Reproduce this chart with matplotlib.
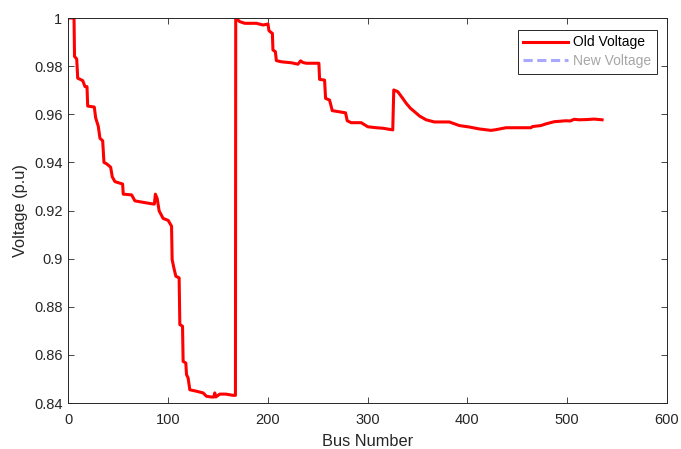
import matplotlib
matplotlib.use('Agg')
from matplotlib import pyplot as plt
from matplotlib.lines import Line2D
import numpy as np

plt.rcParams['font.family'] = ['Liberation Sans', 'DejaVu Sans']

# bus voltage profile (p.u.) at the break points of the feeder
bus = [1, 6, 6.5, 8.7, 9.7, 14.7, 17, 19, 19.7, 26.3, 27.7, 30.3, 32, 34.7, 36,
       38.7, 42.7, 44.3, 47, 54.7, 55.3, 63.7, 67, 75.3, 85.3, 86.5, 87.5, 89.3,
       91.3, 95.3, 100.3, 103.7, 104.3, 106, 108, 111.3, 112, 114.7, 115.3, 118,
       118.7, 120.3, 122, 128.7, 135.3, 138.7, 143.7, 146, 147, 148, 152, 158,
       165.3, 167.7, 168, 172, 177, 188.7, 195.3, 200.3, 201.3, 204.7, 205.3,
       207.7, 208.7, 213.7, 223.7, 230.3, 233, 235.3, 238.7, 251.3, 252, 257,
       258, 262, 264.7, 278, 279.7, 283.7, 293.7, 300.3, 308.7, 315.3, 325.3,
       326.3, 330.3, 335.3, 338.7, 343, 348.7, 352, 358.7, 367, 382, 392, 402,
       412, 423.7, 428.7, 438.7, 452, 463.7, 465.3, 473.7, 478.7, 487, 498.7,
       503, 507, 512, 520, 527, 535]
volt = [1.0, 1.0, 0.984, 0.983, 0.975, 0.974, 0.9715, 0.9715, 0.9634, 0.963,
        0.9585, 0.955, 0.950, 0.949, 0.940, 0.9394, 0.938, 0.934, 0.932, 0.931,
        0.9268, 0.9265, 0.924, 0.9234, 0.9227, 0.9227, 0.9268, 0.925, 0.9198,
        0.9167, 0.9159, 0.9135, 0.8996, 0.8962, 0.8927, 0.892, 0.8726, 0.8719,
        0.8573, 0.8566, 0.8518, 0.8504, 0.8455, 0.8449, 0.8442, 0.8428, 0.8425,
        0.8425, 0.8442, 0.8425, 0.8437, 0.8437, 0.8432, 0.8432, 1.0, 0.9985,
        0.9978, 0.9978, 0.9971, 0.9975, 0.9947, 0.9936, 0.9867, 0.986, 0.9823,
        0.9818, 0.9814, 0.9808, 0.9822, 0.9815, 0.9812, 0.9812, 0.9745, 0.9742,
        0.9666, 0.9659, 0.9615, 0.9606, 0.9573, 0.9565, 0.9565, 0.9548, 0.9544,
        0.9542, 0.9535, 0.9701, 0.9694, 0.9666, 0.9646, 0.9625, 0.9605, 0.9593,
        0.9577, 0.9568, 0.9568, 0.9553, 0.9547, 0.9539, 0.9533, 0.9536, 0.9544,
        0.9544, 0.9544, 0.9549, 0.9553, 0.956, 0.9569, 0.9573, 0.9572, 0.9579,
        0.9577, 0.9578, 0.958, 0.9577]

axcol = '#262626'

fig = plt.figure(figsize=(6.81, 4.49), dpi=100)
ax = fig.add_axes([0.0999, 0.1024, 0.8795, 0.8575])

ax.plot(bus, volt, color='red', linewidth=2.2)

ax.set_xlim(0, 600)
ax.set_ylim(0.84, 1.0)
ax.set_xticks(np.arange(0, 601, 100))
ax.set_yticks(np.arange(0.84, 1.001, 0.02))
ax.set_yticklabels(['0.84', '0.86', '0.88', '0.9', '0.92', '0.94', '0.96', '0.98', '1'])
ax.tick_params(direction='in', length=4, width=0.6, top=True, right=True,
               labelsize=10.5, colors=axcol)
ax.tick_params(axis='x', pad=7)
ax.tick_params(axis='y', pad=4)
for sp in ax.spines.values():
    sp.set_color(axcol)
    sp.set_linewidth(0.7)

ax.set_xlabel('Bus Number', fontsize=11.8, color=axcol, labelpad=5)
ax.set_ylabel('Voltage (p.u)', fontsize=11.8, color=axcol, labelpad=4)

handles = [Line2D([], [], color='red', linewidth=2.2),
           Line2D([], [], color='#a8a8ff', linewidth=2.2, linestyle=(0, (3, 1.5)))]
leg = ax.legend(handles, ['Old Voltage', 'New Voltage'], loc='upper right',
                bbox_to_anchor=(0.983, 0.969), fontsize=10, frameon=True,
                fancybox=False, framealpha=1, edgecolor=axcol, handlelength=3.2,
                handletextpad=0.4, borderpad=0.4, labelspacing=0.35,
                borderaxespad=0)
leg.get_frame().set_linewidth(0.7)
leg.get_texts()[0].set_color('black')
leg.get_texts()[1].set_color('#a6a6a6')

fig.savefig('out.png', dpi=100)
